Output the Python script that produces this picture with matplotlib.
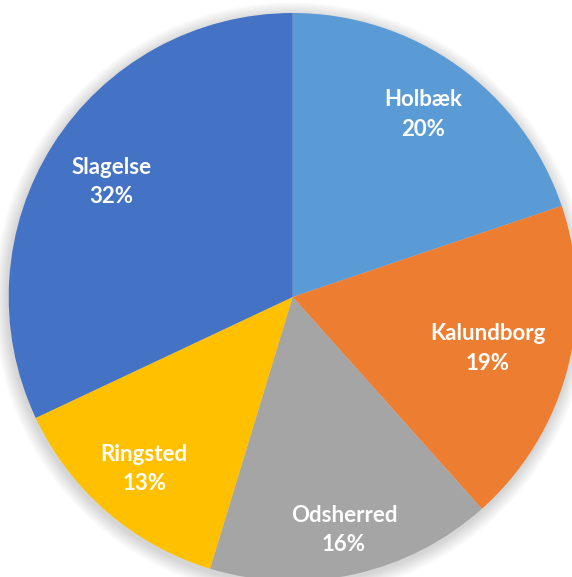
import matplotlib
matplotlib.use("Agg")
import matplotlib.pyplot as plt
import numpy as np
from matplotlib.patches import Circle

labels = ["Holbæk", "Kalundborg", "Odsherred", "Ringsted", "Slagelse"]
values = [19.8, 18.6, 16.3, 13.3, 32.0]
colors = ["#5B9BD5", "#ED7D31", "#A5A5A5", "#FFC000", "#4472C4"]
label_dist = [0.79, 0.71, 0.84, 0.80, 0.755]

W, H = 572, 577
fig = plt.figure(figsize=(W / 100, H / 100), dpi=100)
ax = fig.add_axes([0, 0, 1, 1])

cx, cy, r = 292.7, H - 297, 284

# soft shadow
for i in range(14):
    ax.add_patch(Circle((cx - 1, cy - 3), r + 14 - i, color="black", alpha=0.012, lw=0, zorder=0))

wedges, _ = ax.pie(values, colors=colors, startangle=90, counterclock=False,
                   center=(cx, cy), radius=r, frame=True,
                   wedgeprops=dict(linewidth=0))
ax.set_xlim(0, W)
ax.set_ylim(0, H)
ax.set_aspect("equal")
ax.axis("off")

total = sum(values)
for w, lab, v, d in zip(wedges, labels, values, label_dist):
    ang = np.deg2rad((w.theta1 + w.theta2) / 2)
    x = cx + d * r * np.cos(ang)
    y = cy + d * r * np.sin(ang)
    ax.text(x, y, f"{lab}\n{round(100 * v / total)}%", ha="center", va="center",
            color="white", fontsize=16, fontweight="bold", family="Lato",
            linespacing=1.5)

fig.savefig("out.png", dpi=100)
